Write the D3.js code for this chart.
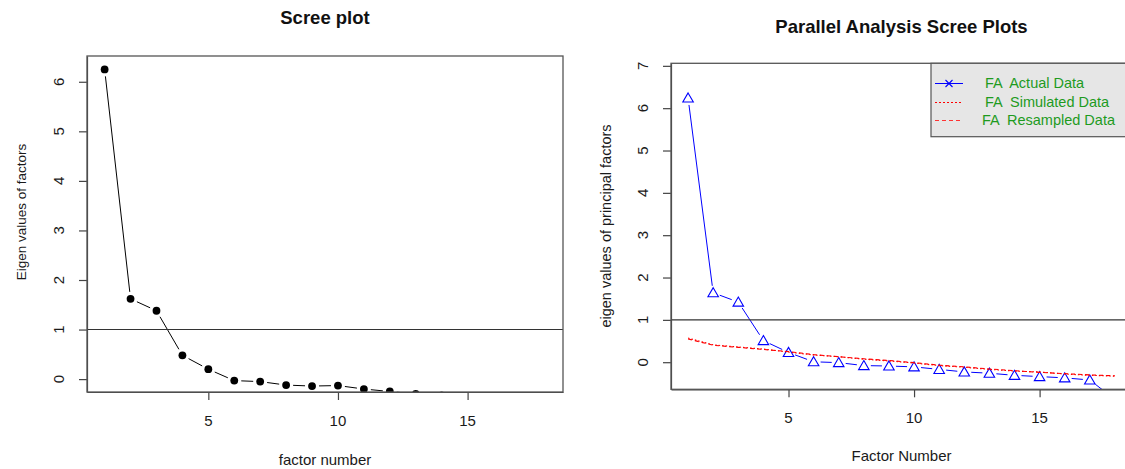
<!DOCTYPE html>
<html>
<head>
<meta charset="utf-8">
<script src="https://cdn.jsdelivr.net/npm/d3@7"></script>
<style>
  body { margin: 0; background: #fff; }
  svg { display: block; font-family: "Liberation Sans", Arial, sans-serif; }
  .legend-text { white-space: pre; }
</style>
</head>
<body>
<div id="chart"></div>
<script>
// values
const factors = [1, 2, 3, 4, 5, 6, 7, 8, 9, 10, 11, 12, 13, 14, 15, 16, 17, 18];
const screeEigen = [6.25, 1.62, 1.38, 0.48, 0.2, -0.03, -0.05, -0.12, -0.14, -0.13, -0.2, -0.25, -0.3, -0.33, -0.36, -0.4, -0.45, -0.85];
const actualEigen = [6.24, 1.64, 1.42, 0.51, 0.23, 0.01, -0.01, -0.08, -0.09, -0.11, -0.17, -0.23, -0.26, -0.31, -0.34, -0.37, -0.42, -0.88];
const simulatedEigen = [0.57, 0.41, 0.36, 0.31, 0.24, 0.17, 0.13, 0.07, 0.03, -0.02, -0.08, -0.12, -0.17, -0.21, -0.23, -0.28, -0.31, -0.33];
const resampledEigen = [0.55, 0.4, 0.35, 0.3, 0.25, 0.18, 0.13, 0.08, 0.04, -0.01, -0.07, -0.11, -0.16, -0.2, -0.24, -0.27, -0.3, -0.32];
const xTicks = [5, 10, 15];
const screeYTicks = [0, 1, 2, 3, 4, 5, 6];
const paYTicks = [0, 1, 2, 3, 4, 5, 6, 7];
const legendLabels = ["FA  Actual Data", "FA  Simulated Data", "FA  Resampled Data"];

const svg = d3.select("#chart").append("svg")
  .attr("width", 1125)
  .attr("height", 469);

// R's type = "b": segments stop short of each point
function gappedSegments(pts, gap) {
  const segs = [];
  for (let i = 1; i < pts.length; i++) {
    const [x0, y0] = pts[i - 1], [x1, y1] = pts[i];
    const d = Math.hypot(x1 - x0, y1 - y0);
    if (d <= 2 * gap) continue;
    const ux = (x1 - x0) / d, uy = (y1 - y0) / d;
    segs.push([x0 + ux * gap, y0 + uy * gap, x1 - ux * gap, y1 - uy * gap]);
  }
  return segs;
}

class ScreePanel {
  constructor(_config) {
    this.config = _config;
    this.initVis();
  }

  initVis() {
    let vis = this;
    const c = vis.config;

    vis.xScale = d3.scaleLinear().domain(c.xDomain).range([c.box.left, c.box.right]);
    vis.yScale = d3.scaleLinear().domain(c.yDomain).range([c.box.bottom, c.box.top]);

    vis.g = svg.append("g");

    // clip marks to the plot box
    vis.g.append("clipPath").attr("id", c.id + "-clip")
      .append("rect")
      .attr("x", c.box.left).attr("y", c.box.top)
      .attr("width", c.box.right - c.box.left)
      .attr("height", c.box.bottom - c.box.top);

    vis.marks = vis.g.append("g").attr("clip-path", `url(#${c.id}-clip)`);

    // axes
    vis.xAxis = d3.axisBottom(vis.xScale).tickValues(xTicks).tickSize(8).tickSizeOuter(0).tickFormat("");
    vis.yAxis = d3.axisLeft(vis.yScale).tickValues(c.yTicks).tickSize(8).tickSizeOuter(0).tickFormat("");

    vis.g.append("g")
      .attr("transform", `translate(0,${c.box.bottom})`)
      .call(vis.xAxis)
      .call((g) => g.selectAll("path, line").attr("stroke", "#444").attr("stroke-width", 1.2));

    vis.g.append("g")
      .attr("transform", `translate(${c.box.left},0)`)
      .call(vis.yAxis)
      .call((g) => g.selectAll("path, line").attr("stroke", "#444").attr("stroke-width", 1.2));

    vis.g.selectAll(".x-label")
      .data(xTicks)
      .join("text")
      .attr("class", "x-label")
      .attr("x", (d) => vis.xScale(d))
      .attr("y", c.xTickBaseline)
      .attr("text-anchor", "middle")
      .attr("font-size", c.tickFont)
      .attr("fill", "#1a1a1a")
      .text((d) => d);

    vis.g.selectAll(".y-label")
      .data(c.yTicks)
      .join("text")
      .attr("class", "y-label")
      .attr("transform", (d) => `translate(${c.yTickBaseline},${vis.yScale(d)}) rotate(-90)`)
      .attr("text-anchor", "middle")
      .attr("font-size", c.tickFont)
      .attr("fill", "#1a1a1a")
      .text((d) => d);

    // titles
    vis.g.append("text")
      .attr("x", (c.box.left + c.box.right) / 2)
      .attr("y", c.titleBaseline)
      .attr("text-anchor", "middle")
      .attr("font-size", 18.5)
      .attr("font-weight", "bold")
      .attr("fill", "#111")
      .text(c.title);

    vis.g.append("text")
      .attr("x", c.xTitle.x)
      .attr("y", c.xTitle.y)
      .attr("text-anchor", "middle")
      .attr("font-size", c.xTitle.size)
      .attr("fill", "#1a1a1a")
      .text(c.xLabel);

    vis.g.append("text")
      .attr("transform", `translate(${c.yTitle.x},${c.yTitle.y}) rotate(-90)`)
      .attr("text-anchor", "middle")
      .attr("font-size", c.yTitle.size)
      .attr("fill", "#1a1a1a")
      .text(c.yLabel);

    // reference line at eigenvalue 1
    vis.g.append("line")
      .attr("x1", c.box.left).attr("x2", c.box.right)
      .attr("y1", vis.yScale(1)).attr("y2", vis.yScale(1))
      .attr("stroke", "#333").attr("stroke-width", 1.1);

    vis.renderVis();

    // box on top
    vis.g.append("rect")
      .attr("x", c.box.left).attr("y", c.box.top)
      .attr("width", c.box.right - c.box.left)
      .attr("height", c.box.bottom - c.box.top)
      .attr("fill", "none")
      .attr("stroke", "#555")
      .attr("stroke-width", 1.3);
  }

  renderVis() {
    let vis = this;

    vis.config.series.forEach((s) => {
      const pts = factors.map((f, i) => [vis.xScale(f), vis.yScale(s.values[i])]);

      if (s.type === "b") {
        vis.marks.append("g")
          .selectAll("line")
          .data(gappedSegments(pts, 7))
          .join("line")
          .attr("x1", (d) => d[0]).attr("y1", (d) => d[1])
          .attr("x2", (d) => d[2]).attr("y2", (d) => d[3])
          .attr("stroke", s.color)
          .attr("stroke-width", 1);

        if (s.marker === "dot") {
          vis.marks.append("g")
            .selectAll("circle")
            .data(pts)
            .join("circle")
            .attr("cx", (d) => d[0]).attr("cy", (d) => d[1])
            .attr("r", 3.9)
            .attr("fill", s.color);
        } else {
          vis.marks.append("g")
            .selectAll("path")
            .data(pts)
            .join("path")
            .attr("transform", (d) => `translate(${d[0]},${d[1] + 1})`)
            .attr("d", d3.symbol(d3.symbolTriangle, 48))
            .attr("fill", "none")
            .attr("stroke", s.color)
            .attr("stroke-width", 1.1);
        }
      } else {
        vis.marks.append("path")
          .datum(pts)
          .attr("d", d3.line())
          .attr("fill", "none")
          .attr("stroke", s.color)
          .attr("stroke-width", 1.1)
          .attr("stroke-dasharray", s.dash);
      }
    });
  }
}

new ScreePanel({
  id: "scree",
  box: { left: 87, right: 563, top: 56, bottom: 392 },
  xDomain: [0.32, 18.68],
  yDomain: [-0.26, 6.52],
  yTicks: screeYTicks,
  tickFont: 15,
  xTickBaseline: 426,
  yTickBaseline: 64,
  titleBaseline: 24,
  title: "Scree plot",
  xLabel: "factor number",
  yLabel: "Eigen values of factors",
  xTitle: { x: 325, y: 465, size: 15 },
  yTitle: { x: 26, y: 212, size: 13.5 },
  series: [{ values: screeEigen, type: "b", marker: "dot", color: "#000" }],
});

new ScreePanel({
  id: "pa",
  box: { left: 671, right: 1132, top: 63.3, bottom: 389.3 },
  xDomain: [0.32, 18.68],
  yDomain: [-0.64, 7.06],
  yTicks: paYTicks,
  tickFont: 15,
  xTickBaseline: 423,
  yTickBaseline: 648,
  titleBaseline: 33,
  title: "Parallel Analysis Scree Plots",
  xLabel: "Factor Number",
  yLabel: "eigen values of principal factors",
  xTitle: { x: 901.5, y: 461, size: 15 },
  yTitle: { x: 611, y: 226, size: 14.5 },
  series: [
    { values: actualEigen, type: "b", marker: "triangle", color: "#0000ff" },
    { values: simulatedEigen, type: "l", color: "#ff0000", dash: "1.5,2" },
    { values: resampledEigen, type: "l", color: "#ff0000", dash: "4,3" },
  ],
});

// legend, top right of the parallel analysis panel
const legendStyles = [
  { color: "#0000ff", dash: null, cross: true },
  { color: "#ff0000", dash: "2,2", cross: false },
  { color: "#ff3333", dash: "4,3", cross: false },
];
const legendIndex = (d) => legendLabels.indexOf(d);

const legend = svg.append("g");
legend.append("rect")
  .attr("x", 931).attr("y", 63.3)
  .attr("width", 1132 - 931).attr("height", 136.7 - 63.3)
  .attr("fill", "#e6e6e6")
  .attr("stroke", "#555")
  .attr("stroke-width", 1.2);

const rows = legend.selectAll(".legend-row")
  .data(legendLabels)
  .join("g")
  .attr("class", "legend-row")
  .attr("transform", (d, i) => `translate(0,${83 + Math.round(i * 18.5)})`);

rows.append("line")
  .attr("x1", 935).attr("x2", 963)
  .attr("y1", 0.5).attr("y2", 0.5)
  .style("stroke", (d) => legendStyles[legendIndex(d)].color)
  .style("stroke-width", 1)
  .style("stroke-dasharray", (d) => legendStyles[legendIndex(d)].dash);

rows.filter((d) => legendStyles[legendIndex(d)].cross)
  .append("path")
  .attr("transform", "translate(949,0.5)")
  .attr("d", "M-3.5,-3.5L3.5,3.5M-3.5,3.5L3.5,-3.5")
  .attr("stroke", "#0000ff")
  .attr("stroke-width", 1.1);

rows.append("text")
  .attr("class", "legend-text")
  .attr("x", (d) => (legendIndex(d) === 2 ? 982 : 985))
  .attr("y", 5)
  .attr("font-size", 14.5)
  .attr("fill", "#1e9b1e")
  .text((d) => d);
</script>
</body>
</html>
